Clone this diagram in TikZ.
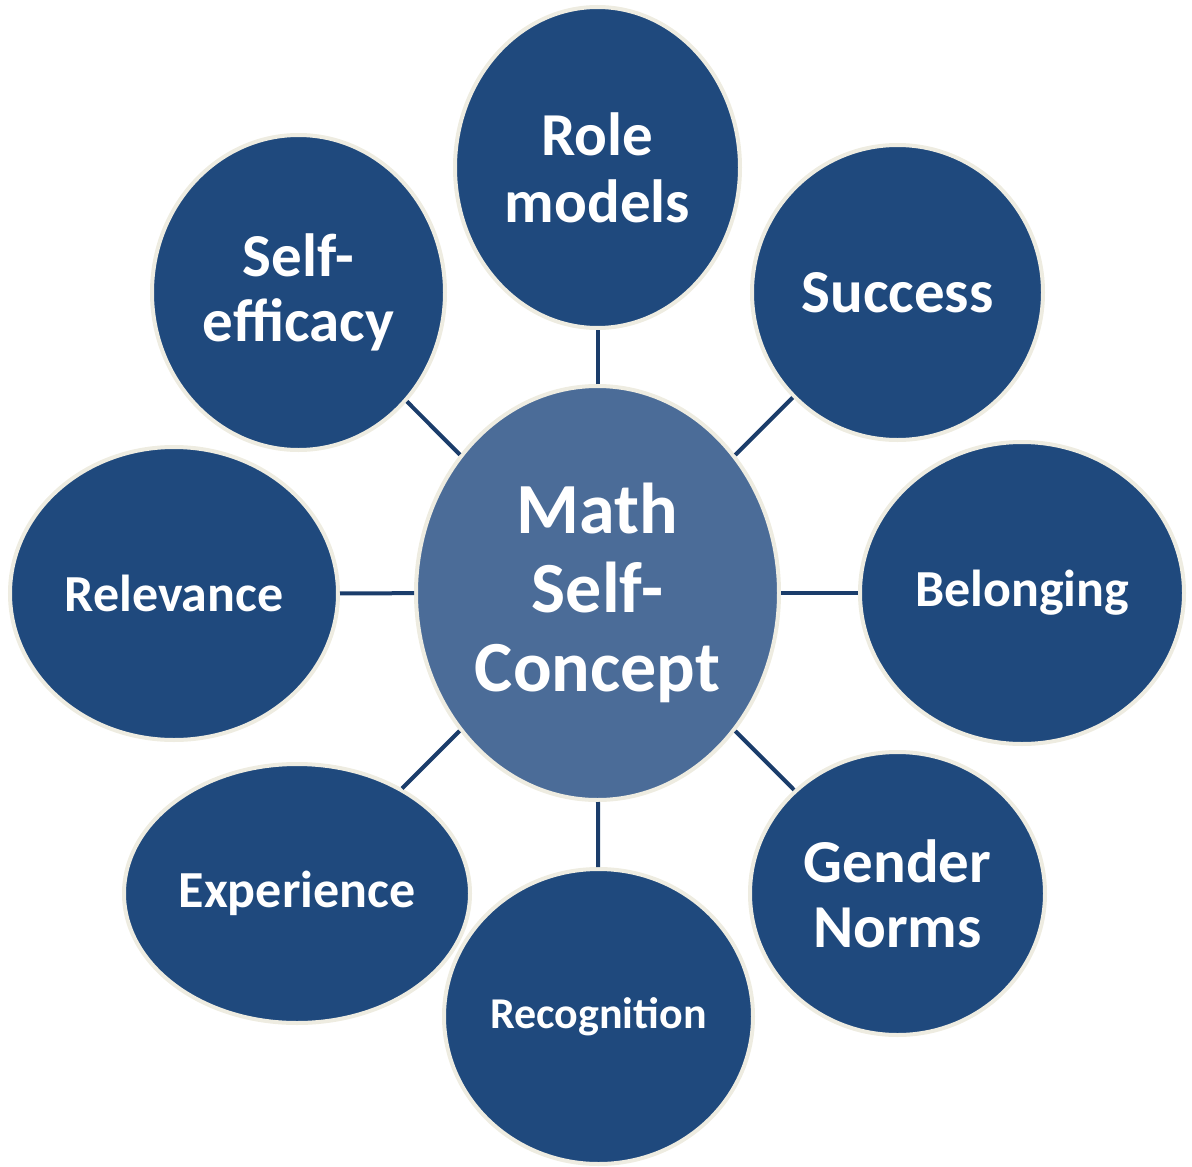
\documentclass[tikz,border=0pt]{standalone}
\usepackage{fontspec}
\setmainfont{Carlito}
\usepackage{tikz}
\usetikzlibrary{shapes, positioning}

\definecolor{outerblue}{HTML}{1F497D}
\definecolor{innerblue}{HTML}{4B6C98}
\definecolor{rimcream}{HTML}{EEECE1}
\definecolor{linkblue}{HTML}{1B3D6B}

\begin{document}
\begin{tikzpicture}[x=1pt,y=-1pt]
        \useasboundingbox (0,0) rectangle (1192,1167);
        \begin{scope}[every node/.style={ellipse,draw=rimcream,line width=4pt,fill=outerblue,text=white,align=center,inner sep=0pt,font=\bfseries}]
          \node[fill=innerblue,minimum width=363pt,minimum height=414pt,font=\bfseries\fontsize{72}{79}\selectfont] (c) at (597.5,593) {Math\\Self-\\Concept};
          \node[minimum width=285pt,minimum height=321pt,font=\bfseries\fontsize{61}{67}\selectfont] (rm) at (597.5,167.5) {Role\\models};
          \node[minimum width=291pt,minimum height=295pt,font=\bfseries\fontsize{61}{67}\selectfont] (su) at (897.5,292.5) {Success};
          \node[minimum width=324pt,minimum height=302pt,font=\bfseries\fontsize{52}{60}\selectfont] (be) at (1022,593) {Belonging};
          \node[minimum width=295pt,minimum height=283pt,font=\bfseries\fontsize{61}{65}\selectfont] (gn) at (897.5,893.5) {Gender\\Norms};
          \node[minimum width=309pt,minimum height=295pt,font=\bfseries\fontsize{44}{52}\selectfont] (rc) at (598.5,1016.5) {Recognition};
          \node[minimum width=346pt,minimum height=259pt,font=\bfseries\fontsize{52}{60}\selectfont] (ex) at (297,893.5) {Experience};
          \node[minimum width=328pt,minimum height=293pt,font=\bfseries\fontsize{52}{60}\selectfont] (rl) at (174,593.5) {Relevance};
          \node[minimum width=293pt,minimum height=315pt,font=\bfseries\fontsize{61}{65}\selectfont] (se) at (298.5,292.5) {Self-\\efficacy};
        \end{scope}
        \begin{scope}[every edge/.style={draw=linkblue,line width=4pt}]
          \path (c) edge (rm);
          \path (c) edge (su);
          \path (c) edge (be);
          \path (c) edge (gn);
          \path (c) edge (rc);
          \path (c) edge (ex);
          \path (c) edge (rl);
          \path (c) edge (se);
        \end{scope}
      \end{tikzpicture}
\end{document}
